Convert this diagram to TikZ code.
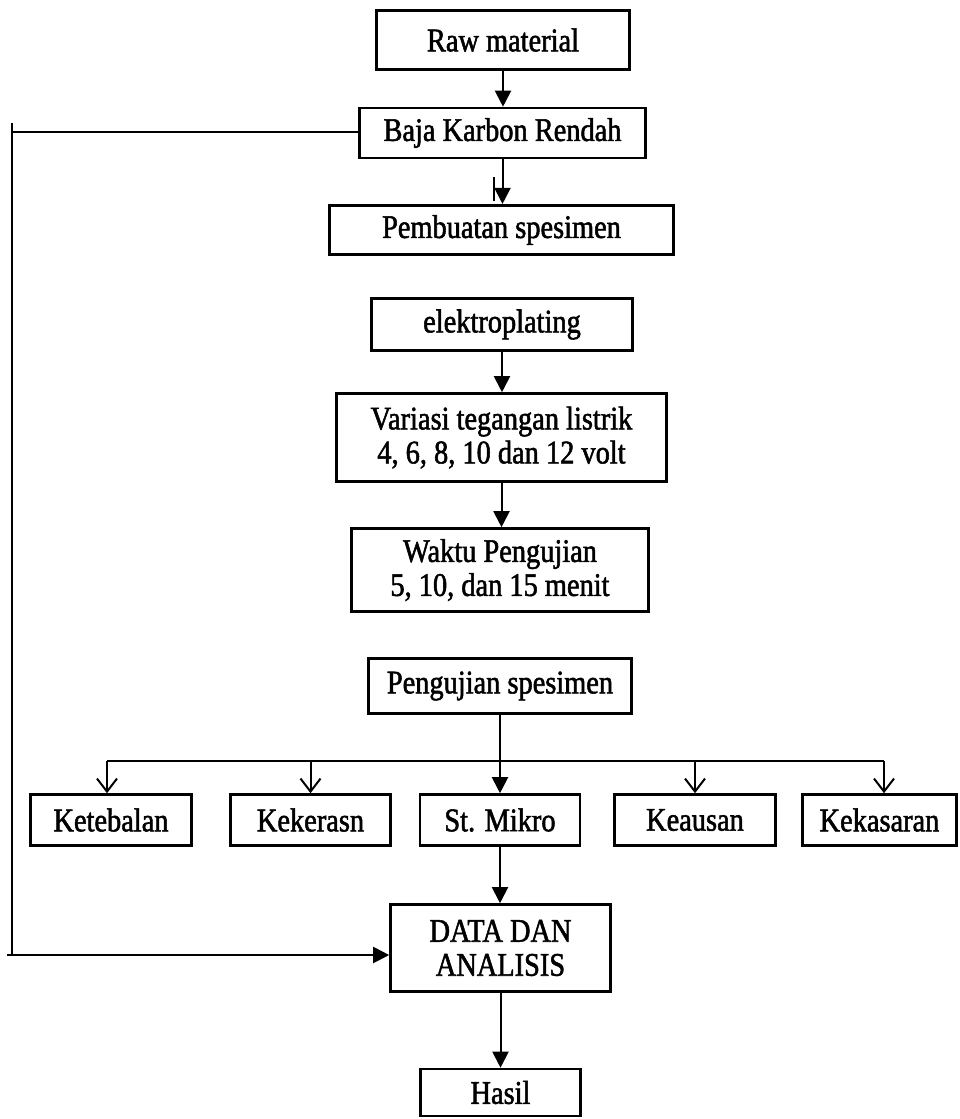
\documentclass[tikz,border=0pt]{standalone}
\usepackage{fontspec}
\setmainfont[FakeStretch=0.86,FakeBold=1.6]{Liberation Serif}
\usetikzlibrary{arrows.meta}
\begin{document}
\begin{tikzpicture}[x=1pt,y=-1pt,
  box/.style={draw, line width=2.6pt, inner sep=0pt, align=center,
    font=\fontsize{33}{34}\selectfont},
  conn/.style={line width=2pt},
  fa/.style={conn, -{Triangle[length=16pt,width=16pt]}},
  oa/.style={conn, -{Straight Barb[length=13pt,width=20pt,line width=2pt]}}]
\useasboundingbox (0,0) rectangle (959,1119);
% boxes
\node[box, minimum width=253pt, minimum height=59pt] (raw)   at (503,40)    {Raw material};
\node[box, minimum width=286pt, minimum height=50pt] (baja)  at (502.5,133) {Baja Karbon Rendah};
\node[box, minimum width=344pt, minimum height=49.5pt] (pemb) at (501.5,230) {Pembuatan spesimen};
\node[box, minimum width=261pt, minimum height=52pt] (elek)  at (502,324.5) {elektroplating};
\node[box, minimum width=330pt, minimum height=88pt] (var)   at (501.5,437.5) {Variasi tegangan listrik\\4, 6, 8, 10 dan 12 volt};
\node[box, minimum width=297pt, minimum height=83pt] (wak)   at (500,570)   {Waktu Pengujian\\5, 10, dan 15 menit};
\node[box, minimum width=263pt, minimum height=55pt] (peng)  at (500,686)   {Pengujian spesimen};
\node[box, minimum width=161pt, minimum height=51pt] (ket)   at (111,820)   {Ketebalan};
\node[box, minimum width=160pt, minimum height=51pt] (ker)   at (310.5,820) {Kekerasn};
\node[box, minimum width=160pt, minimum height=51pt] (mik)   at (500,820)   {St. Mikro};
\node[box, minimum width=161pt, minimum height=51pt] (kea)   at (695,820)   {Keausan};
\node[box, minimum width=154pt, minimum height=51pt] (kek)   at (879.5,820) {Kekasaran};
\node[box, minimum width=220pt, minimum height=87pt] (data)  at (500.5,948) {DATA DAN\\ANALISIS};
\node[box, minimum width=160pt, minimum height=47pt] (hasil) at (500.5,1092.5) {Hasil};
% main flow
\draw[fa] (raw.south) -- (raw.south |- baja.north);
\draw[fa] (baja.south) -- (baja.south |- pemb.north);
\coordinate (dbla) at (494,177);
\coordinate (dblb) at (494,201);
\draw[conn] (dbla) -- (dblb);
\draw[fa] (elek.south) -- (elek.south |- var.north);
\draw[fa] (var.south) -- (var.south |- wak.north);
% branch
\coordinate (bl) at (107,761);
\coordinate (br) at (884,761);
\draw[conn] (bl) -- (br);
\draw[fa] (peng.south) -- (peng.south |- mik.north);
\draw[oa] (bl) -- (bl |- ket.north);
\draw[oa] (ker.north |- bl) -- (ker.north);
\draw[oa] (kea.north |- bl) -- (kea.north);
\draw[oa] (br) -- (br |- kek.north);
% lower flow
\draw[fa] (mik.south) -- (mik.south |- data.north);
\draw[fa] (data.south) -- (data.south |- hasil.north);
% feedback line
\coordinate (fl) at (12,132);
\coordinate (ftop) at (12,123);
\coordinate (fbot) at (12,955);
\coordinate (fstart) at (7,955);
\draw[conn] (baja.west |- fl) -- (fl);
\draw[conn] (ftop) -- (fbot);
\draw[fa] (fstart) -- (fstart -| data.west);
\end{tikzpicture}
\end{document}
